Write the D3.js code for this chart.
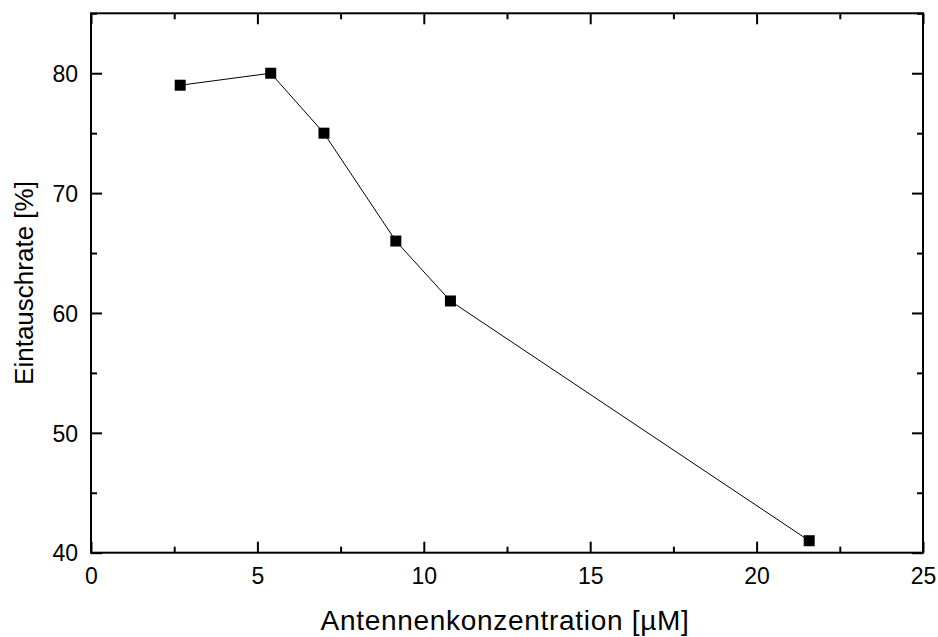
<!DOCTYPE html>
<html>
<head>
<meta charset="utf-8">
<script src="https://cdn.jsdelivr.net/npm/d3@7"></script>
<style>
  body { margin: 0; background: #fff; }
  text { font-family: "Liberation Sans", Arial, sans-serif; fill: #000; }
</style>
</head>
<body>
<div id="chart"></div>
<script>
// data
var concentration = [2.68, 5.4, 7.0, 9.16, 10.8, 21.58];
var rate = [79, 80, 75, 66, 61, 41];
var xMajor = [0, 5, 10, 15, 20, 25];
var yMajor = [40, 50, 60, 70, 80];
var xMinor = [2.5, 7.5, 12.5, 17.5, 22.5];
var yMinor = [45, 55, 65, 75, 85];

var data = concentration.map(function(c, i) { return {x: c, y: rate[i]}; });

var margin = {top: 13.3, right: 15, bottom: 84.3, left: 91},
    width = 938 - margin.left - margin.right,
    height = 637 - margin.top - margin.bottom;

var svg = d3.select("#chart")
  .append("svg")
    .attr("width", 938)
    .attr("height", 637)
  .append("g")
    .attr("transform", "translate(" + margin.left + "," + margin.top + ")");

var x = d3.scaleLinear().domain([0, 25]).range([0, width]);
var y = d3.scaleLinear().domain([40, 85]).range([height, 0]);

// major / minor ticks on all four sides, pointing inward
function styleAxis(g) {
  g.select(".domain").remove();
  g.selectAll("line").attr("stroke", "#000").attr("stroke-width", 2);
}

svg.append("g")
  .attr("transform", "translate(0," + height + ")")
  .call(d3.axisBottom(x).tickValues(xMajor).tickSize(-11).tickSizeOuter(0).tickFormat(d3.format("d")))
  .call(styleAxis)
  .selectAll("text")
    .attr("y", 31).attr("dy", 0)
    .style("font-size", "23px");

svg.append("g")
  .attr("transform", "translate(0," + height + ")")
  .call(d3.axisBottom(x).tickValues(xMinor).tickSize(-6).tickFormat(""))
  .call(styleAxis);

svg.append("g")
  .call(d3.axisTop(x).tickValues(xMajor).tickSize(-11).tickFormat(""))
  .call(styleAxis);
svg.append("g")
  .call(d3.axisTop(x).tickValues(xMinor).tickSize(-6).tickFormat(""))
  .call(styleAxis);

svg.append("g")
  .call(d3.axisLeft(y).tickValues(yMajor).tickSize(-11).tickSizeOuter(0).tickFormat(d3.format("d")))
  .call(styleAxis)
  .selectAll("text")
    .attr("x", -13)
    .attr("dy", "0.36em")
    .style("font-size", "23px");

svg.append("g")
  .call(d3.axisLeft(y).tickValues(yMinor).tickSize(-6).tickFormat(""))
  .call(styleAxis);

svg.append("g")
  .attr("transform", "translate(" + width + ",0)")
  .call(d3.axisRight(y).tickValues(yMajor).tickSize(-11).tickFormat(""))
  .call(styleAxis);
svg.append("g")
  .attr("transform", "translate(" + width + ",0)")
  .call(d3.axisRight(y).tickValues(yMinor).tickSize(-6).tickFormat(""))
  .call(styleAxis);

// frame
svg.append("rect")
  .attr("width", width)
  .attr("height", height)
  .attr("fill", "none")
  .attr("stroke", "#000")
  .attr("stroke-width", 2);

// line
svg.append("path")
  .datum(data)
  .attr("fill", "none")
  .attr("stroke", "#000")
  .attr("stroke-width", 1)
  .attr("d", d3.line()
    .x(function(d) { return x(d.x); })
    .y(function(d) { return y(d.y); }));

// square markers
svg.selectAll(".pt")
  .data(data)
  .enter().append("rect")
    .attr("class", "pt")
    .attr("x", function(d) { return x(d.x) - 5.5; })
    .attr("y", function(d) { return y(d.y) - 5.5; })
    .attr("width", 11)
    .attr("height", 11)
    .attr("fill", "#000");

// axis titles
svg.append("text")
  .attr("x", 505 - margin.left)
  .attr("y", 630 - margin.top)
  .attr("text-anchor", "middle")
  .style("font-size", "28px")
  .style("letter-spacing", "0.7px")
  .text("Antennenkonzentration [µM]");

svg.append("text")
  .attr("transform", "translate(" + (33 - margin.left) + "," + (height / 2) + ") rotate(-90)")
  .attr("text-anchor", "middle")
  .style("font-size", "26px")
  .text("Eintauschrate [%]");
</script>
</body>
</html>
